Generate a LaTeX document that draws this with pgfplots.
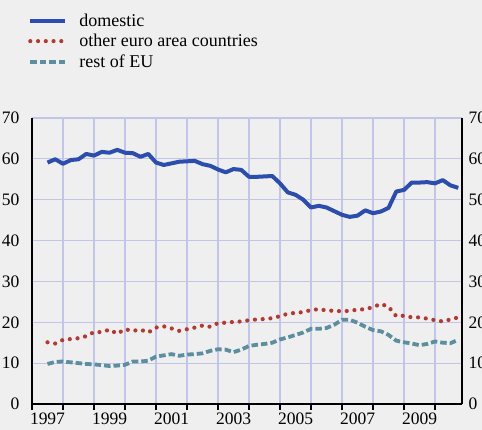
\documentclass[border=0pt]{standalone}
\usepackage{fontspec}
\setmainfont{Liberation Serif}
\usepackage{pgfplots}
\usepackage{pgfplotstable}
\pgfplotsset{compat=1.18}
\definecolor{bgc}{HTML}{EFEFEF}
\definecolor{dom}{HTML}{2B4DAE}
\definecolor{oth}{HTML}{B5392E}
\definecolor{rest}{HTML}{5B8E9E}
\definecolor{gridc}{HTML}{C2C5EA}
\pgfplotstableread{
x dom oth rest
1997.50 59.1 15.1 9.8
1997.75 59.9 14.8 10.3
1998.00 58.8 15.7 10.4
1998.25 59.7 15.9 10.2
1998.50 59.9 16.1 10.0
1998.75 61.2 16.6 9.8
1999.00 60.8 17.6 9.7
1999.25 61.7 17.6 9.5
1999.50 61.5 18.2 9.3
1999.75 62.2 17.2 9.4
2000.00 61.5 18.3 9.6
2000.25 61.4 17.9 10.4
2000.50 60.5 18.2 10.4
2000.75 61.2 17.5 10.6
2001.00 59.1 18.7 11.6
2001.25 58.5 19.0 11.9
2001.50 58.9 18.5 12.2
2001.75 59.3 17.9 11.8
2002.00 59.4 18.3 12.1
2002.25 59.5 18.7 12.2
2002.50 58.7 19.2 12.4
2002.75 58.3 18.9 13.0
2003.00 57.4 19.8 13.4
2003.25 56.7 19.9 13.3
2003.50 57.5 20.1 12.7
2003.75 57.3 20.2 13.3
2004.00 55.6 20.5 14.2
2004.25 55.6 20.7 14.5
2004.50 55.7 20.8 14.7
2004.75 55.8 21.0 15.0
2005.00 54.0 21.5 15.8
2005.25 51.8 22.1 16.3
2005.50 51.2 22.3 16.9
2005.75 50.0 22.5 17.5
2006.00 48.1 23.0 18.4
2006.25 48.5 23.2 18.4
2006.50 48.1 22.9 18.6
2006.75 47.2 22.8 19.4
2007.00 46.3 22.7 20.6
2007.25 45.8 22.8 20.6
2007.50 46.1 23.1 19.9
2007.75 47.4 23.2 18.9
2008.00 46.7 23.7 18.1
2008.25 47.1 24.5 17.8
2008.50 48.0 23.8 16.9
2008.75 52.0 21.5 15.5
2009.00 52.4 21.6 15.1
2009.25 54.2 21.2 14.8
2009.50 54.2 21.2 14.4
2009.75 54.3 20.9 14.7
2010.00 54.0 20.5 15.3
2010.25 54.8 20.2 15.0
2010.50 53.5 20.7 14.9
2010.75 52.9 21.2 15.7
}\datatable
\begin{document}
\begin{tikzpicture}
\fill[bgc, use as bounding box] (0pt,0pt) rectangle (482pt,430pt);
\begin{axis}[
  at={(32pt,26pt)}, anchor=south west,
  scale only axis, width=430pt, height=286pt,
  xmin=1997, xmax=2010.87, ymin=0, ymax=70,
  axis x line*=bottom, axis y line*=left,
  axis line style={-, black, line width=1.2pt},
  xtick={1997,1998,...,2010}, xticklabels={},
  extra x ticks={1997.5,1999.5,2001.5,2003.5,2005.5,2007.5,2009.5},
  extra x tick labels={1997,1999,2001,2003,2005,2007,2009},
  extra x tick style={major tick length=0pt, grid=none},
  tick align=outside, major tick length=6pt,
  xtick style={black, line width=1.2pt},
  ytick={0,10,...,70},
  ytick style={draw=none},
  grid=major, major grid style={gridc, line width=1.1pt},
  /pgf/number format/assume math mode=true,
  /pgf/number format/1000 sep={},
  tick label style={font=\fontsize{17.5}{17.5}\selectfont},
  yticklabel style={xshift=-3pt},
  xticklabel style={yshift=-5pt},
  legend style={at={(rel axis cs:0,1)}, anchor=south west, xshift=-4pt, yshift=47pt,
    draw=none, fill=none, font=\fontsize{18}{21}\selectfont, row sep=2.5pt,
    inner sep=0pt, /tikz/every even column/.style={column sep=0pt}},
  legend cell align=left,
  legend image code/.code={\draw[#1] (0pt,0pt) -- (35pt,0pt);},
  clip=false,
]
\addplot[dom, line width=4pt, line join=round] table[x=x, y=dom] {\datatable};
\addlegendentry{\hspace{10pt}domestic}
\addplot[oth, line width=4.2pt, line cap=round, dash pattern=on 0pt off 7.75pt] table[x=x, y=oth] {\datatable};
\addlegendentry{\hspace{10pt}other euro area countries}
\addplot[rest, line width=3.8pt, dash pattern=on 6.5pt off 3pt] table[x=x, y=rest] {\datatable};
\addlegendentry{\hspace{10pt}rest of EU}
\end{axis}
\begin{axis}[
  at={(32pt,26pt)}, anchor=south west,
  scale only axis, width=430pt, height=286pt,
  xmin=1997, xmax=2010.87, ymin=0, ymax=70,
  axis x line=none, axis y line*=right,
  axis line style={-, black, line width=1.2pt},
  ytick={0,10,...,70}, ytick style={draw=none},
  /pgf/number format/assume math mode=true,
  tick label style={font=\fontsize{17.5}{17.5}\selectfont},
  yticklabel style={xshift=3pt},
]
\addplot[draw=none] coordinates {(1997,0)};
\end{axis}
\end{tikzpicture}
\end{document}
